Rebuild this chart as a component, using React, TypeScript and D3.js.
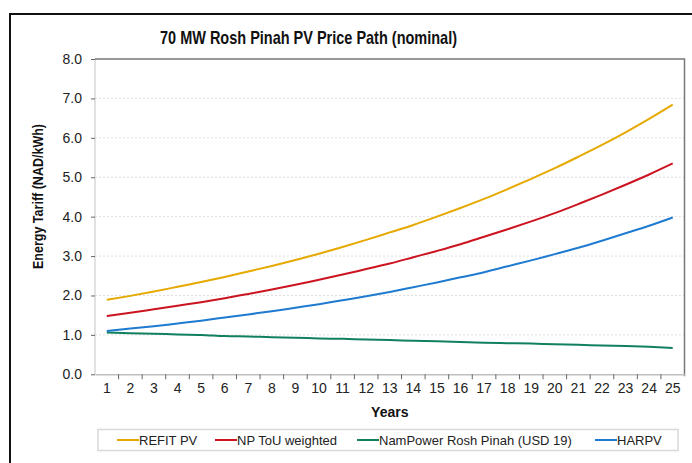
import React, { useEffect, useRef } from 'react';
import * as d3 from 'd3';

const years = d3.range(1, 26);
const yTicks = [0, 1, 2, 3, 4, 5, 6, 7, 8];

const refitPV = [1.89, 1.99, 2.10, 2.22, 2.34, 2.47, 2.61, 2.75, 2.90, 3.06, 3.23, 3.41, 3.60, 3.79, 4.00, 4.22, 4.45, 4.70, 4.96, 5.23, 5.52, 5.82, 6.14, 6.48, 6.84];
const npTou = [1.48, 1.56, 1.65, 1.74, 1.83, 1.93, 2.04, 2.15, 2.27, 2.40, 2.53, 2.67, 2.81, 2.97, 3.13, 3.30, 3.49, 3.68, 3.88, 4.09, 4.32, 4.56, 4.81, 5.07, 5.35];
const namPower = [1.06, 1.04, 1.03, 1.01, 1.00, 0.97, 0.96, 0.94, 0.93, 0.91, 0.90, 0.88, 0.87, 0.85, 0.84, 0.82, 0.80, 0.79, 0.78, 0.76, 0.75, 0.73, 0.72, 0.70, 0.67];
const harpv = [1.10, 1.16, 1.22, 1.29, 1.36, 1.44, 1.52, 1.60, 1.69, 1.78, 1.88, 1.98, 2.09, 2.21, 2.33, 2.46, 2.59, 2.74, 2.89, 3.05, 3.21, 3.39, 3.58, 3.77, 3.98];

const series = [
  { name: 'REFIT PV', values: refitPV, color: '#E6A900' },
  { name: 'NP ToU weighted', values: npTou, color: '#CC1420' },
  { name: 'NamPower Rosh Pinah (USD 19)', values: namPower, color: '#108060' },
  { name: 'HARPV', values: harpv, color: '#1F7BD0' },
];

// legend item x positions (line start)
const legendX = [117, 215, 357, 595];

const App = () => {
  const svgRef = useRef<SVGSVGElement>(null);

  useEffect(() => {
    const svg = d3.select(svgRef.current);
    svg.selectAll('*').remove();

    const width = 692;
    const height = 463;
    const plot = { left: 95, right: 684.5, top: 59, bottom: 374.3 };
    const font = 'Arial, "Liberation Sans", sans-serif';

    svg.append('rect').attr('width', width).attr('height', height).attr('fill', '#fff');

    // outer frame
    svg.append('rect')
      .attr('x', 10).attr('y', 14)
      .attr('width', 700).attr('height', 480)
      .attr('fill', 'none').attr('stroke', '#111').attr('stroke-width', 2);

    const x = d3.scaleBand<number>()
      .domain(years)
      .range([plot.left, plot.right]);

    const y = d3.scaleLinear()
      .domain([0, 8])
      .range([plot.bottom, plot.top]);

    // gridlines
    svg.append('g')
      .selectAll('line')
      .data(yTicks.filter(d => d > 0 && d < 8))
      .enter()
      .append('line')
      .attr('x1', plot.left).attr('x2', plot.right)
      .attr('y1', d => y(d)).attr('y2', d => y(d))
      .attr('stroke', '#dedede')
      .attr('stroke-dasharray', '2,2');

    // plot area left edge (light)
    svg.append('line')
      .attr('x1', plot.left).attr('x2', plot.left)
      .attr('y1', plot.top).attr('y2', plot.bottom)
      .attr('stroke', '#d9d9d9').attr('stroke-width', 1.5);

    // plot area top and right edges (darker)
    svg.append('path')
      .attr('d', `M${plot.left},${plot.top}H${plot.right}V${plot.bottom + 2}`)
      .attr('fill', 'none')
      .attr('stroke', '#777').attr('stroke-width', 1.5);

    // y axis
    const yAxis = svg.append('g')
      .attr('transform', `translate(${plot.left},0)`)
      .call(d3.axisLeft(y).tickValues(yTicks).tickFormat(d3.format('.1f')).tickSize(4).tickPadding(9));
    yAxis.select('.domain').remove();
    yAxis.selectAll('line').attr('stroke', '#666');
    yAxis.selectAll('text')
      .attr('fill', '#222')
      .style('font-family', font)
      .style('font-size', '14px');

    // x axis
    const xAxis = svg.append('g')
      .attr('transform', `translate(0,${plot.bottom})`)
      .call(d3.axisBottom(x).tickSize(0).tickPadding(9));
    xAxis.select('.domain').attr('stroke', '#bfbfbf').attr('stroke-width', 1.5);
    xAxis.selectAll('text')
      .attr('fill', '#222')
      .style('font-family', font)
      .style('font-size', '14px');

    // x tick marks at category boundaries
    svg.append('g')
      .selectAll('line')
      .data(years.slice(1))
      .enter()
      .append('line')
      .attr('x1', d => x(d)!).attr('x2', d => x(d)!)
      .attr('y1', plot.bottom).attr('y2', plot.bottom + 5)
      .attr('stroke', '#666');

    // lines
    const line = d3.line<number>()
      .x((_, i) => x(years[i])! + x.bandwidth() / 2)
      .y(d => y(d))
      .curve(d3.curveMonotoneX);

    series.forEach(s => {
      svg.append('path')
        .datum(s.values)
        .attr('d', line)
        .attr('fill', 'none')
        .attr('stroke', s.color)
        .attr('stroke-width', 2);
    });

    // title
    svg.append('text')
      .attr('x', 308.5).attr('y', 44)
      .attr('text-anchor', 'middle')
      .attr('textLength', 297)
      .attr('lengthAdjust', 'spacingAndGlyphs')
      .style('font-family', font)
      .style('font-size', '19px')
      .style('font-weight', 'bold')
      .attr('fill', '#111')
      .text('70 MW Rosh Pinah PV Price Path (nominal)');

    // axis titles
    svg.append('text')
      .attr('x', (plot.left + plot.right) / 2).attr('y', 417)
      .attr('text-anchor', 'middle')
      .style('font-family', font)
      .style('font-size', '14px')
      .style('font-weight', 'bold')
      .attr('fill', '#111')
      .text('Years');

    svg.append('text')
      .attr('transform', 'translate(43,196.5) rotate(-90)')
      .attr('text-anchor', 'middle')
      .attr('textLength', 145)
      .attr('lengthAdjust', 'spacingAndGlyphs')
      .style('font-family', font)
      .style('font-size', '14px')
      .style('font-weight', 'bold')
      .attr('fill', '#111')
      .text('Energy Tariff (NAD/kWh)');

    // legend
    svg.append('rect')
      .attr('x', 98).attr('y', 429.5)
      .attr('width', 580).attr('height', 21)
      .attr('fill', '#fff')
      .attr('stroke', '#d9d9d9').attr('stroke-width', 1.5);

    const legend = svg.append('g')
      .selectAll('g')
      .data(series)
      .enter()
      .append('g')
      .attr('transform', (_, i) => `translate(${legendX[i]},440)`);

    legend.append('line')
      .attr('x1', 0).attr('x2', 22)
      .attr('stroke', d => d.color)
      .attr('stroke-width', 2);

    legend.append('text')
      .attr('x', 22).attr('y', 5)
      .style('font-family', font)
      .style('font-size', '13px')
      .attr('fill', '#222')
      .text(d => d.name);
  }, []);

  return (
    <svg
      ref={svgRef}
      width={692}
      height={463}
      style={{ position: 'absolute', left: 0, top: 0, display: 'block' }}
    />
  );
};

export default App;
